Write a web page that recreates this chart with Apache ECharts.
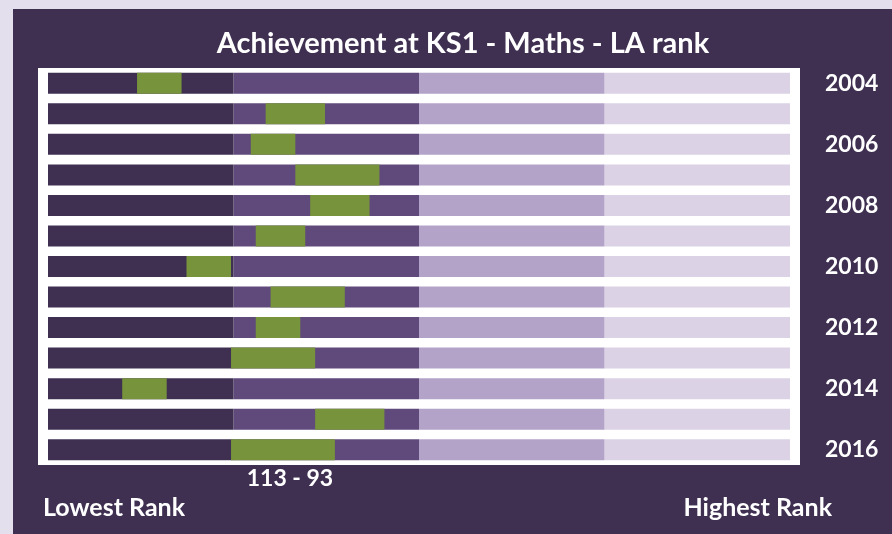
<!DOCTYPE html>
<html>
<head>
<meta charset="utf-8">
<title>Achievement at KS1 - Maths - LA rank</title>
<script src="https://cdn.jsdelivr.net/npm/echarts@6/dist/echarts.min.js"></script>
<style>
  html, body { margin: 0; padding: 0; background: #e4dfec; }
  #chart { width: 892px; height: 534px; }
</style>
</head>
<body>
<div id="chart"></div>
<script>
// LA rank range per year (lowest rank -> highest rank), 150 LAs, rank 1 = best
var years = ['2004','2005','2006','2007','2008','2009','2010','2011','2012','2013','2014','2015','2016'];
var lowRank  = [132, 106, 109, 100, 97, 108, 122, 105, 108, 113, 135, 96, 113];
var highRank = [123,  94, 100,  83, 85,  98, 113,  90,  99,  96, 126, 82,  92];
// note printed under the latest bar
var rangeNotes = ['', '', '', '', '', '', '', '', '', '', '', '', '113 - 93'];
var totalLAs = 150;
// quartile bands, best quartile first (drawn from the right)
var bandNames  = ['Top quartile', 'Upper middle', 'Lower middle', 'Bottom quartile'];
var bandColors = ['#dbd2e6', '#b4a3c9', '#604a7b', '#3f3052'];

var chart = echarts.init(document.getElementById('chart'));

var bandSize = totalLAs / bandNames.length;
var series = [];
bandNames.forEach(function (name, k) {
  series.push({
    name: name,
    type: 'bar',
    stack: 'bands',
    barWidth: 21,
    barGap: '-100%',
    silent: true,
    itemStyle: { color: bandColors[k] },
    data: years.map(function () { return bandSize; })
  });
});

// invisible offset up to the highest rank, then the green range
series.push({
  name: 'offset',
  type: 'bar',
  stack: 'range',
  barWidth: 21,
  silent: true,
  itemStyle: { color: 'transparent' },
  data: highRank.slice()
});
series.push({
  name: 'Rank range',
  type: 'bar',
  stack: 'range',
  barWidth: 21,
  silent: true,
  itemStyle: { color: '#77933c' },
  label: {
    show: true,
    position: 'bottom',
    distance: 5,
    offset: [7, 2],
    color: '#ffffff',
    fontFamily: 'Lato',
    fontWeight: 'bold',
    fontSize: 23,
    formatter: function (p) { return rangeNotes[p.dataIndex]; }
  },
  data: years.map(function (y, i) { return lowRank[i] - highRank[i]; })
});

var option = {
  animation: false,
  grid: { left: 48, right: 102, top: 68, height: 397 },
  graphic: [
    { type: 'rect', z: -10, shape: { x: 13, y: 9, width: 879, height: 525 }, style: { fill: '#3f3052' } },
    { type: 'rect', z: -9, shape: { x: 38, y: 68, width: 762, height: 397 }, style: { fill: '#ffffff' } },
    { type: 'text', x: 463, y: 44, style: { text: 'Achievement at KS1 - Maths - LA rank', fill: '#ffffff',
        font: 'bold 29px Lato', textAlign: 'center', textVerticalAlign: 'middle' } },
    { type: 'text', x: 43, y: 508, style: { text: 'Lowest Rank', fill: '#ffffff',
        font: 'bold 25px Lato', textAlign: 'left', textVerticalAlign: 'middle' } },
    { type: 'text', x: 832, y: 508, style: { text: 'Highest Rank', fill: '#ffffff',
        font: 'bold 25px Lato', textAlign: 'right', textVerticalAlign: 'middle' } }
  ],
  xAxis: {
    type: 'value',
    min: 0,
    max: totalLAs,
    inverse: true,
    show: false
  },
  yAxis: {
    type: 'category',
    data: years,
    inverse: true,
    position: 'right',
    axisLine: { show: false },
    axisTick: { show: false },
    splitLine: { show: false },
    axisLabel: {
      interval: 1,
      margin: 35,
      color: '#ffffff',
      fontFamily: 'Lato',
      fontWeight: 'bold',
      fontSize: 23
    }
  },
  series: series
};
chart.setOption(option);
</script>
</body>
</html>
